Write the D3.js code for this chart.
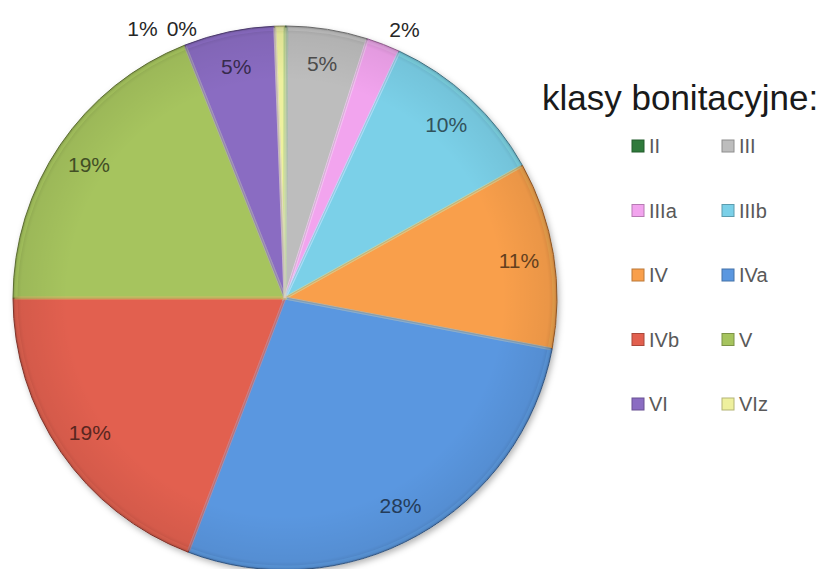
<!DOCTYPE html>
<html>
<head>
<meta charset="utf-8">
<script src="https://cdn.jsdelivr.net/npm/d3@7"></script>
<style>
  body { margin: 0; background: #fff; }
  svg { display: block; }
</style>
</head>
<body>
<svg id="chart" width="817" height="569"></svg>
<script>
// soil quality classes and their share of the area (percent)
const classes = ["II", "III", "IIIa", "IIIb", "IV", "IVa", "IVb", "V", "VI", "VIz"];
const shares = [0.1, 4.8, 2.0, 10.0, 11.1, 27.8, 19.2, 19.0, 5.4, 0.6];
const colors = ["#2f7a3b", "#bdbdbd", "#f2a4ee", "#7bd0e8", "#f99f4b",
                "#5a97e0", "#e2604f", "#a6c45e", "#8a6cc2", "#eef09e"];
const legendTitle = "klasy bonitacyjne:";

const W = 817, H = 569;
const cx = 285, cy = 298, R = 272;
const labelR = 237; // radius for labels inside slices
const font = "'Liberation Sans', Arial, sans-serif";

const svg = d3.select("#chart");

var defs = svg.append("defs");
var shadow = defs.append("filter").attr("id", "shadow")
    .attr("x", "-10%").attr("y", "-10%").attr("width", "120%").attr("height", "120%");
shadow.append("feDropShadow")
    .attr("dx", 2).attr("dy", 3).attr("stdDeviation", 3)
    .attr("flood-color", "#000").attr("flood-opacity", 0.3);

// soft darkening toward the rim, gives a bit of the 3d look
var rimGrad = defs.append("radialGradient").attr("id", "rimShade");
rimGrad.append("stop").attr("offset", "80%").attr("stop-color", "#000").attr("stop-opacity", 0);
rimGrad.append("stop").attr("offset", "97%").attr("stop-color", "#000").attr("stop-opacity", 0.06);
rimGrad.append("stop").attr("offset", "100%").attr("stop-color", "#000").attr("stop-opacity", 0.18);

var color = d3.scaleOrdinal().domain(classes).range(colors);
var pct = d => d3.format(".0f")(d) + "%";

var pie = d3.pie().sort(null).value(d => d.v);
var data = classes.map((c, i) => ({c: c, v: shares[i]}));
var arcs = pie(data);

var arc = d3.arc().innerRadius(0).outerRadius(R);
var rim = d3.arc().innerRadius(0).outerRadius(R - 3);

var g = svg.append("g").attr("transform", `translate(${cx},${cy})`);

// base disk for the shadow
g.append("circle").attr("r", R).attr("fill", "#fff").attr("filter", "url(#shadow)");

g.selectAll("path.slice")
  .data(arcs)
  .join("path")
    .attr("class", "slice")
    .attr("d", arc)
    .attr("fill", d => color(d.data.c))
    .attr("stroke", d => d3.color(color(d.data.c)).darker(1.3))
    .attr("stroke-width", 1);

// bevel highlight just inside each slice edge
g.selectAll("path.bevel")
  .data(arcs)
  .join("path")
    .attr("class", "bevel")
    .attr("d", rim)
    .attr("fill", "none")
    .attr("stroke", d => d3.color(color(d.data.c)).brighter(0.5))
    .attr("stroke-opacity", 0.45)
    .attr("stroke-width", 3);

g.append("circle").attr("r", R).attr("fill", "url(#rimShade)").attr("pointer-events", "none");

// labels: large slices inside, small slices outside
var inside = arcs.filter(d => d.data.v >= 3);
var outside = arcs.filter(d => d.data.v < 3);
var labelArc = d3.arc().innerRadius(labelR).outerRadius(labelR);

g.selectAll("text.in")
  .data(inside)
  .join("text")
    .attr("class", "in")
    .attr("transform", d => {
        var p = labelArc.centroid(d);
        return `translate(${p[0]},${p[1]})`;
    })
    .attr("text-anchor", "middle")
    .attr("dy", "0.36em")
    .attr("font-family", font)
    .attr("font-size", 21)
    .attr("fill", d => d3.color(color(d.data.c)).darker(2.6))
    .text(d => pct(d.data.v));

// outside labels; the ones crowded around 12 o'clock go in a row to the left
var midA = d => {
    var a = (d.startAngle + d.endAngle) / 2;
    return a > Math.PI ? a - 2 * Math.PI : a;
};
var topRow = outside.filter(d => Math.abs(midA(d)) < 0.1).sort((a, b) => midA(b) - midA(a));
var rest = outside.filter(d => Math.abs(midA(d)) >= 0.1);

var outR = R + 16;
g.selectAll("text.out")
  .data(rest)
  .join("text")
    .attr("class", "out")
    .attr("x", d => outR * Math.sin(midA(d)))
    .attr("y", d => -outR * Math.cos(midA(d)))
    .attr("text-anchor", d => midA(d) >= 0 ? "start" : "end")
    .attr("dy", "0.36em")
    .attr("font-family", font)
    .attr("font-size", 21)
    .attr("fill", "#262626")
    .text(d => pct(d.data.v));

var rowX = -88;
topRow.forEach(d => {
    var t = g.append("text")
        .attr("x", rowX)
        .attr("y", -R + 2)
        .attr("text-anchor", "end")
        .attr("dy", "0.36em")
        .attr("font-family", font)
        .attr("font-size", 21)
        .attr("fill", "#262626")
        .text(pct(d.data.v));
    rowX -= t.node().getComputedTextLength() + 9;
});

// legend
svg.append("text")
    .attr("x", 542).attr("y", 110)
    .attr("font-family", font)
    .attr("font-size", 35)
    .attr("fill", "#1a1a1a")
    .text(legendTitle);

var colX = d3.scaleOrdinal().domain([0, 1]).range([632, 722]);
var rowY = d3.scalePoint().domain(d3.range(5)).range([146, 404]);

var items = svg.append("g").selectAll("g")
  .data(classes)
  .join("g")
    .attr("transform", (d, i) => `translate(${colX(i % 2)},${rowY(Math.floor(i / 2))})`);

items.append("rect")
    .attr("x", 0).attr("y", -6)
    .attr("width", 12).attr("height", 12)
    .attr("fill", d => color(d))
    .attr("stroke", d => d3.color(color(d)).darker(0.8))
    .attr("stroke-width", 1);

items.append("text")
    .attr("x", 17)
    .attr("dy", "0.36em")
    .attr("font-family", font)
    .attr("font-size", 20)
    .attr("fill", "#595959")
    .text(d => d);
</script>
</body>
</html>
